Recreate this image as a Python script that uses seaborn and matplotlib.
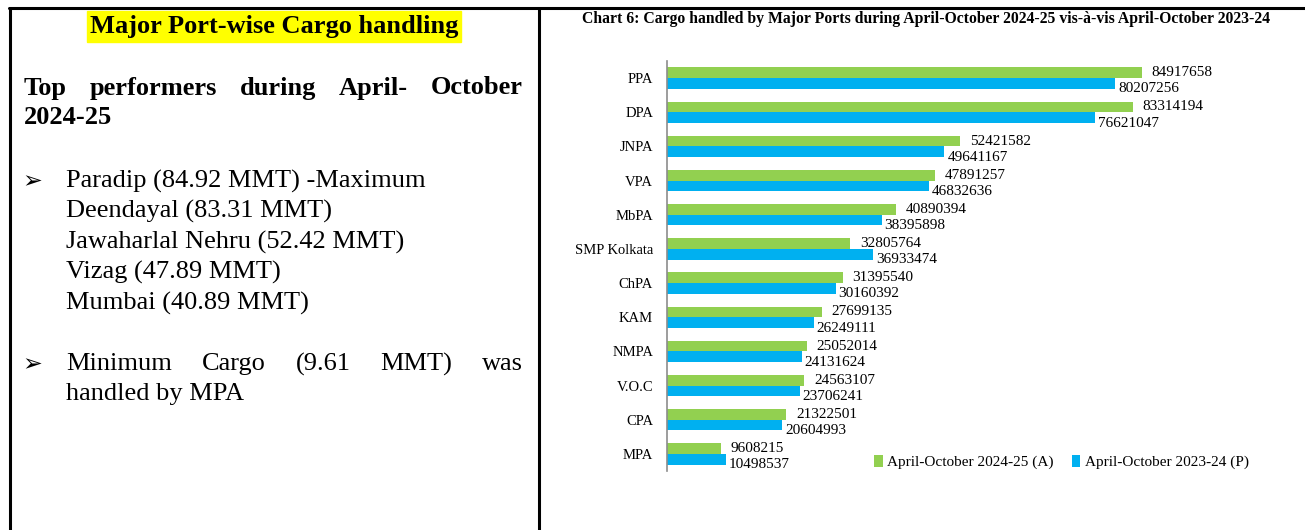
import pandas as pd
import numpy as np
import matplotlib
matplotlib.use("Agg")
import matplotlib.pyplot as plt
from matplotlib.patches import Patch, Rectangle
from matplotlib.lines import Line2D
import seaborn as sns

sns.set_style("white")
plt.rcParams['font.family'] = ['Liberation Serif', 'DejaVu Sans']
plt.rcParams['text.color'] = 'black'
plt.rcParams['ytick.labelcolor'] = 'black'

# data
ports = ['PPA', 'DPA', 'JNPA', 'VPA', 'MbPA', 'SMP Kolkata', 'ChPA', 'KAM',
         'NMPA', 'V.O.C', 'CPA', 'MPA']
cargo_2425 = [84917658, 83314194, 52421582, 47891257, 40890394, 32805764,
              31395540, 27699135, 25052014, 24563107, 21322501, 9608215]
cargo_2324 = [80207256, 76621047, 49641167, 46832636, 38395898, 36933474,
              30160392, 26249111, 24131624, 23706241, 20604993, 10498537]
series = ['April-October 2024-25 (A)', 'April-October 2023-24 (P)']
colors = ['#92D050', '#00B0F0']

title = ('Chart 6: Cargo handled by Major Ports during April-October 2024-25 '
         'vis-à-vis April-October 2023-24')
heading = 'Major Port-wise Cargo handling'
top_line1 = ['Top', 'performers', 'during', 'April-', 'October']
top_line2 = '2024-25'
performers = ['Paradip (84.92 MMT) -Maximum', 'Deendayal (83.31 MMT)',
              'Jawaharlal Nehru (52.42 MMT)', 'Vizag (47.89 MMT)',
              'Mumbai (40.89 MMT)']
min_line1 = ['Minimum', 'Cargo', '(9.61', 'MMT)', 'was']
min_line2 = 'handled by MPA'

df = pd.DataFrame({
    'port': ports * 2,
    'cargo': cargo_2425 + cargo_2324,
    'period': [series[0]] * len(ports) + [series[1]] * len(ports),
})

W, H = 1305, 530
fig = plt.figure(figsize=(W / 100, H / 100), dpi=100)


def fx(px):
    return px / W


def fy(py):
    return 1 - py / H


# table borders
for xs, ys in [((9, W), (7.5, 7.5)), ((10, 10), (7.5, H)), ((539, 539), (7.5, H))]:
    fig.add_artist(Line2D([fx(xs[0]), fx(xs[1])], [fy(ys[0]), fy(ys[1])],
                          color='black', lw=2.2, transform=fig.transFigure))

# left panel text
fig.add_artist(Rectangle((fx(87), fy(42)), fx(461) - fx(87), fy(11) - fy(42),
                         color='#FFFF00', transform=fig.transFigure, zorder=0))
fig.text(fx(274), fy(27), heading, fontsize=19, fontweight='bold',
         ha='center', va='center')

renderer = fig.canvas.get_renderer()


def justify(words, x0, x1, y, **kw):
    txts = [fig.text(fx(x0), fy(y), w, ha='left', va='center', **kw) for w in words]
    widths = [t.get_window_extent(renderer).width for t in txts]
    gap = (x1 - x0 - sum(widths)) / (len(words) - 1)
    x = x0
    for t, w in zip(txts, widths):
        t.set_x(fx(x))
        x += w + gap


justify(top_line1, 24, 523, 88, fontsize=19, fontweight='bold')
fig.text(fx(24), fy(118), top_line2, fontsize=19, fontweight='bold', va='center')

fig.text(fx(22), fy(181), '➢', fontsize=17, va='center',
         family=['DejaVu Sans'])
for k, line in enumerate(performers):
    fig.text(fx(66), fy(181 + 30.5 * k), line, fontsize=19, va='center')

fig.text(fx(22), fy(364), '➢', fontsize=17, va='center',
         family=['DejaVu Sans'])
justify(min_line1, 66, 523, 364, fontsize=19)
fig.text(fx(66), fy(394), min_line2, fontsize=19, va='center')

# chart
fig.text(fx(926), fy(19), title, fontsize=11.3, fontweight='bold',
         ha='center', va='center')

ax = fig.add_axes([fx(667), fy(471), fx(1226) - fx(667), fy(61) - fy(471)])
sns.barplot(data=df, y='port', x='cargo', hue='period', hue_order=series,
            palette=colors, saturation=1, orient='h', width=0.62, gap=0,
            linewidth=0, legend=False, ax=ax)

ax.set_xlim(0, 1e8)
ax.set_ylim(len(ports) - 0.5, -0.5)
ax.set_xlabel('')
ax.set_ylabel('')
ax.set_xticks([])
for s in ['top', 'right', 'bottom']:
    ax.spines[s].set_visible(False)
ax.spines['left'].set_color('#8c8c8c')
ax.spines['left'].set_linewidth(1.2)
ax.set_yticks(range(len(ports)))
ax.set_yticklabels(ports, fontsize=10.5)
ax.set_yticks(np.arange(-0.5, len(ports), 1), minor=True)
ax.tick_params(axis='y', which='major', length=0, pad=10)
ax.tick_params(axis='y', which='minor', length=5, color='#8c8c8c', width=1.2)

for i in range(len(ports)):
    ax.annotate(str(cargo_2425[i]), (cargo_2425[i], i - 0.155),
                xytext=(7, 0), textcoords='offset points',
                ha='left', va='center', fontsize=11)
    ax.annotate(str(cargo_2324[i]), (cargo_2324[i], i + 0.155),
                xytext=(2, -4), textcoords='offset points',
                ha='left', va='center', fontsize=11)

handles = [Patch(facecolor=c, edgecolor='none') for c in colors]
fig.legend(handles, series, loc='center left',
           bbox_to_anchor=(fx(868), fy(462)), ncol=2, frameon=False,
           fontsize=11, handlelength=0.55, handleheight=0.9,
           handletextpad=0.3, columnspacing=1.2, borderaxespad=0)

plt.savefig('out.png', dpi=100)
